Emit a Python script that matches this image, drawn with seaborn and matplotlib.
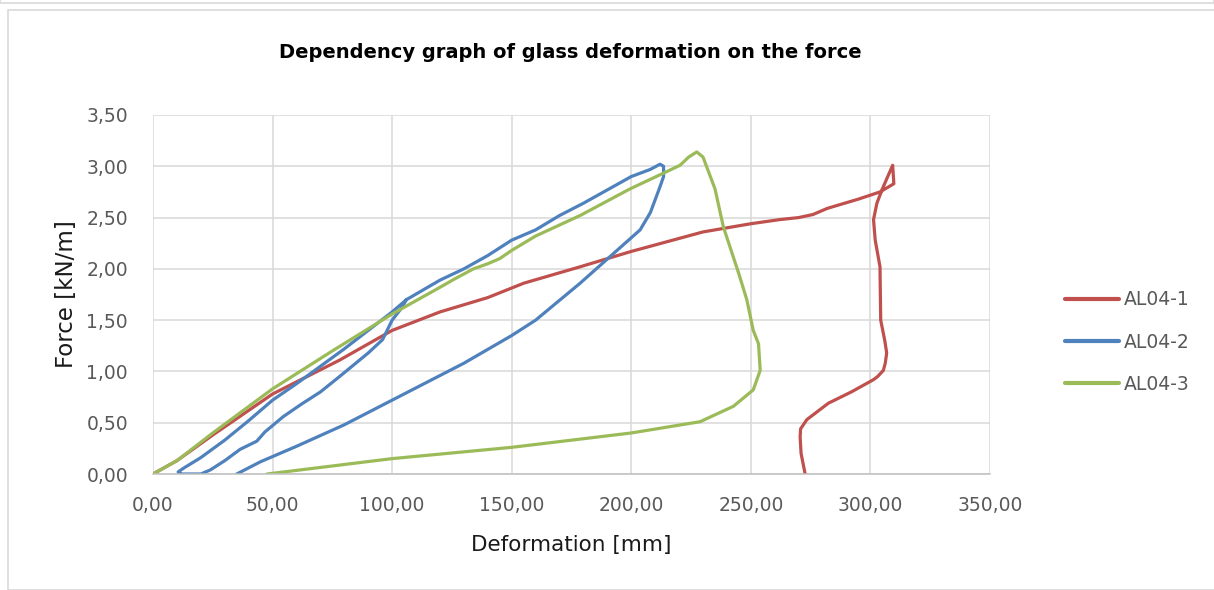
import matplotlib
matplotlib.use("Agg")
import matplotlib.pyplot as plt
import seaborn as sns
import pandas as pd
import numpy as np
from matplotlib.patches import Rectangle

series_names = ["AL04-1", "AL04-2", "AL04-3"]

al04_1_x = [0, 10, 25, 50, 78, 100, 120, 140, 155, 178.6, 200, 230, 250, 262, 270, 276, 282,
            295, 304, 309.8, 309.3, 305, 302.7, 301.3, 302, 304, 304.3, 306, 306.8, 306.2, 305.4,
            303, 301.3, 292, 282.4, 273.4, 270.8, 270.6, 271, 272.7]
al04_1_y = [0, 0.13, 0.38, 0.78, 1.11, 1.40, 1.58, 1.72, 1.86, 2.02, 2.17, 2.36, 2.44, 2.48,
            2.50, 2.53, 2.59, 2.68, 2.75, 2.83, 3.01, 2.78, 2.64, 2.48, 2.28, 2.02, 1.50, 1.30,
            1.18, 1.08, 1.01, 0.95, 0.92, 0.80, 0.69, 0.53, 0.44, 0.36, 0.20, 0.0]

al04_2_x = [106, 100, 90, 80, 70, 60, 50, 40, 30, 20, 13, 10.5, 12, 16, 20, 24, 30, 36.4,
            43.4, 46.8, 54.5, 62, 70, 78, 90, 96, 100, 104, 106,
            120, 130, 140, 150, 160, 170, 180, 190, 200, 208,
            212, 213.5, 213.5, 212, 208, 203.7, 195, 178.6, 160, 150, 130, 110, 100, 80, 60, 45, 35]
al04_2_y = [1.70, 1.58, 1.40, 1.22, 1.05, 0.88, 0.72, 0.52, 0.33, 0.16, 0.06, 0.02, 0.0, 0.0,
            0.0, 0.04, 0.13, 0.24, 0.32, 0.41, 0.56, 0.68, 0.80, 0.95, 1.18, 1.31, 1.50, 1.62, 1.70,
            1.89, 2.0, 2.13, 2.28, 2.38, 2.52, 2.64, 2.77, 2.90, 2.97, 3.02, 3.0, 2.9, 2.8, 2.55,
            2.38, 2.2, 1.86, 1.50, 1.35, 1.08, 0.84, 0.72, 0.48, 0.27, 0.12, 0.0]

al04_3_x = [0, 10, 25, 50, 75, 100, 120, 126, 134, 140, 145, 150, 160, 178.6, 199.5, 215, 220.4,
            224, 227.4, 230, 235, 238.5, 245, 248.3, 251, 253.2, 253.9, 251, 242.7, 228.8, 200,
            150, 100, 47.7]
al04_3_y = [0, 0.13, 0.40, 0.83, 1.20, 1.56, 1.82, 1.90, 2.00, 2.05, 2.10, 2.18, 2.32, 2.52, 2.78,
            2.95, 3.01, 3.09, 3.14, 3.09, 2.78, 2.41, 1.95, 1.70, 1.40, 1.27, 1.01, 0.82, 0.66,
            0.51, 0.40, 0.26, 0.15, 0.0]

x_ticks = [0, 50, 100, 150, 200, 250, 300, 350]
y_ticks = [0, 0.5, 1.0, 1.5, 2.0, 2.5, 3.0, 3.5]

frames = []
for name, xs, ys in zip(series_names, [al04_1_x, al04_2_x, al04_3_x], [al04_1_y, al04_2_y, al04_3_y]):
    frames.append(pd.DataFrame({"Deformation": xs, "Force": ys, "Series": name}))
df = pd.concat(frames, ignore_index=True)

sns.set_theme(style="white")
plt.rcParams['font.family'] = ['DejaVu Sans']

fig = plt.figure(figsize=(12.14, 5.90), dpi=100)
ax = fig.add_axes([153/1214, 1 - 474/590, (990-153)/1214, (474-115)/590])

palette = {"AL04-1": "#C0504D", "AL04-2": "#4F81BD", "AL04-3": "#9BBB59"}
sns.lineplot(data=df, x="Deformation", y="Force", hue="Series", units="Series",
             estimator=None, sort=False, palette=palette, linewidth=2.3, ax=ax,
             legend=True, solid_capstyle="round", solid_joinstyle="round")

ax.set_xlim(0, 350)
ax.set_ylim(0, 3.5)
ax.set_xticks(x_ticks)
ax.set_yticks(y_ticks)
fmt = lambda v: f"{v:.2f}".replace(".", ",")
ax.set_xticklabels([fmt(v) for v in x_ticks])
ax.set_yticklabels([fmt(v) for v in y_ticks])
ax.tick_params(axis="both", length=0, labelsize=13.5, colors="#595959")
ax.tick_params(axis="y", pad=18)
ax.tick_params(axis="x", pad=16)
ax.grid(True, color="#D9D9D9", linewidth=1.1)
ax.set_axisbelow(True)
for s in ["top", "right", "left"]:
    ax.spines[s].set_visible(False)
ax.spines["bottom"].set_color("#BFBFBF")
ax.spines["bottom"].set_linewidth(1.1)

ax.set_xlabel("Deformation [mm]", fontsize=15.5, color="#1a1a1a", labelpad=14)
ax.set_ylabel("Force [kN/m]", fontsize=16.5, color="#1a1a1a", labelpad=6)

fig.text(570/1214, 1 - 52/590, "Dependency graph of glass deformation on the force",
         ha="center", va="center", fontsize=14, fontweight="bold", color="#000000")

handles, labels = ax.get_legend_handles_labels()
ax.legend_.remove()
leg = fig.legend(handles, labels, loc="center left", bbox_to_anchor=(1065/1214, 1 - 342/590),
                 frameon=False, fontsize=13.5, handlelength=2.9, labelspacing=1.25,
                 handletextpad=0.25, borderpad=0, borderaxespad=0)
for t in leg.get_texts():
    t.set_color("#595959")
for h in leg.legend_handles:
    h.set_linewidth(3)

fig.patches.append(Rectangle((8/1214, 0), 1.0, 1 - 10/590, transform=fig.transFigure,
                             fill=False, edgecolor="#D9D9D9", linewidth=1.2))
fig.patches.append(Rectangle((0, 1 - 3/590), 1.0, 0.1, transform=fig.transFigure,
                             fill=False, edgecolor="#D9D9D9", linewidth=1.2))

fig.savefig("out.png", dpi=100)
